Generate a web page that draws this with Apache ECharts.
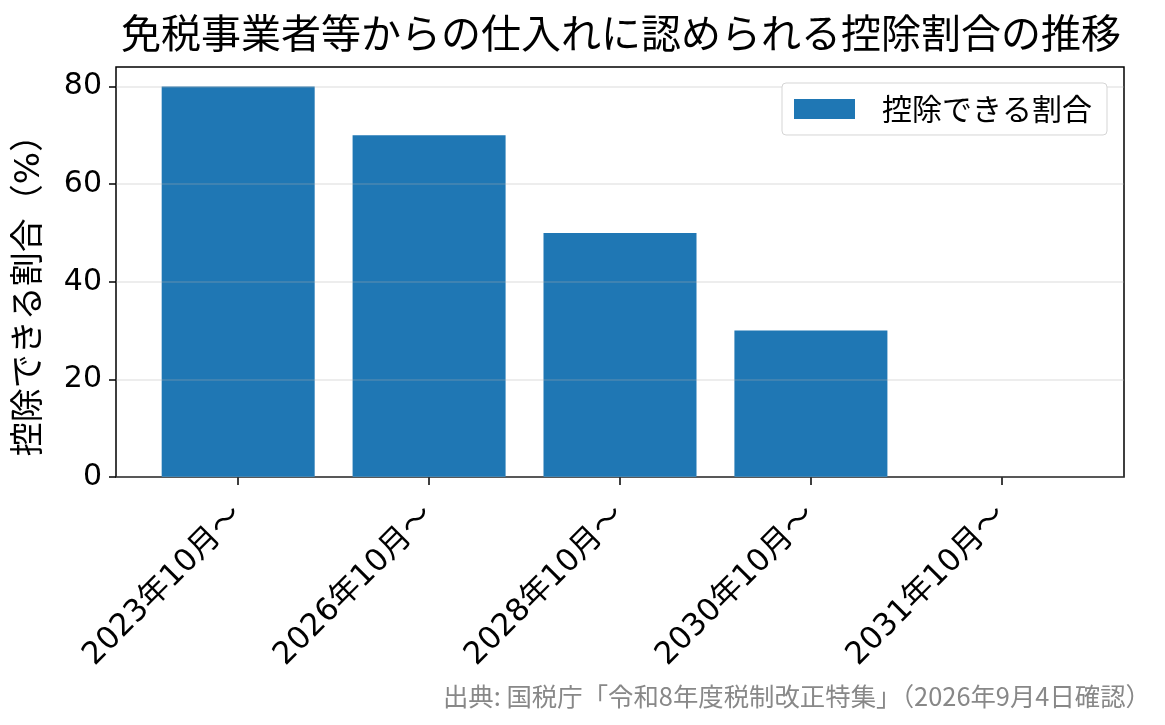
<!DOCTYPE html>
<html>
<head>
<meta charset="utf-8">
<script src="https://cdn.jsdelivr.net/npm/echarts@6/dist/echarts.min.js"></script>
<style>
  html, body { margin: 0; padding: 0; background: #fff; }
  #chart { width: 1165px; height: 725px; }
</style>
</head>
<body>
<div id="chart"></div>
<script>
// Data
const categories = ['2023年10月〜', '2026年10月〜', '2028年10月〜', '2030年10月〜', '2031年10月〜'];
const deductionRates = [80, 70, 50, 30, 0];
const yTicks = [0, 20, 40, 60, 80];
const titleText = '免税事業者等からの仕入れに認められる控除割合の推移';
const seriesName = '控除できる割合';
const yAxisName = '控除できる割合（%）';
const sourceText = '出典: 国税庁「令和8年度税制改正特集」（2026年9月4日確認）';

const cjk = '"Noto Sans CJK JP", "Noto Sans", sans-serif';
const mixed = '"DejaVu Sans", "Noto Sans CJK JP", sans-serif';
const chart = echarts.init(document.getElementById('chart'), null, {renderer: 'canvas'});

// Bars on a value axis so the frame can extend beyond the outer bars
const barData = deductionRates.map((v, i) => [i, v]);
const xTickValues = categories.map((c, i) => i);

const option = {
  animation: false,
  textStyle: {fontFamily: cjk},
  title: [{
    text: titleText,
    left: 616,
    top: 8,
    textAlign: 'center',
    textStyle: {fontSize: 40, fontWeight: 'normal', color: '#000', fontFamily: cjk}
  }, {
    text: sourceText,
    right: 14,
    top: 684,
    padding: 0,
    textStyle: {fontSize: 25.4, fontWeight: 'normal', color: '#888', fontFamily: cjk}
  }],
  legend: {
    right: 58,
    top: 83,
    itemWidth: 61,
    itemHeight: 20,
    padding: [11, 15, 11, 12],
    borderColor: '#d5d5d5',
    borderWidth: 1,
    borderRadius: 4,
    backgroundColor: '#fff',
    textStyle: {fontSize: 30, color: '#000', fontFamily: cjk, padding: [0, 0, 0, 22]},
    data: [{name: seriesName, icon: 'rect'}]
  },
  grid: {
    left: 116,
    right: 41,
    top: 67,
    bottom: 248,
    show: true,
    borderColor: '#000',
    borderWidth: 1.5,
    containLabel: false
  },
  xAxis: {
    type: 'value',
    min: -0.64,
    max: 4.64,
    splitLine: {show: false},
    axisLine: {show: false, onZero: false},
    axisTick: {
      show: true,
      customValues: xTickValues,
      length: 8,
      lineStyle: {color: '#000', width: 1.5}
    },
    axisLabel: {
      customValues: xTickValues,
      rotate: 45,
      fontSize: 31,
      color: '#000',
      margin: 34,
      fontFamily: mixed,
      formatter: v => categories[Math.round(v)]
    }
  },
  yAxis: {
    type: 'value',
    min: 0,
    max: 84,
    z: 3,
    name: yAxisName,
    nameLocation: 'middle',
    nameGap: 69,
    nameTextStyle: {fontSize: 34, color: '#000', fontFamily: mixed, padding: [0, 30, 0, 0]},
    axisLine: {show: false, onZero: false},
    axisTick: {
      show: true,
      customValues: yTicks,
      length: 7,
      lineStyle: {color: '#000', width: 1.5}
    },
    axisLabel: {
      customValues: yTicks,
      fontSize: 30,
      color: '#000',
      margin: 14,
      fontFamily: mixed
    },
    splitLine: {
      show: true,
      lineStyle: {color: 'rgba(176,176,176,0.3)', width: 1.5}
    }
  },
  series: [{
    name: seriesName,
    type: 'bar',
    barWidth: 153,
    itemStyle: {color: '#1f77b4'},
    data: barData
  }]
};

chart.setOption(option);
</script>
</body>
</html>
